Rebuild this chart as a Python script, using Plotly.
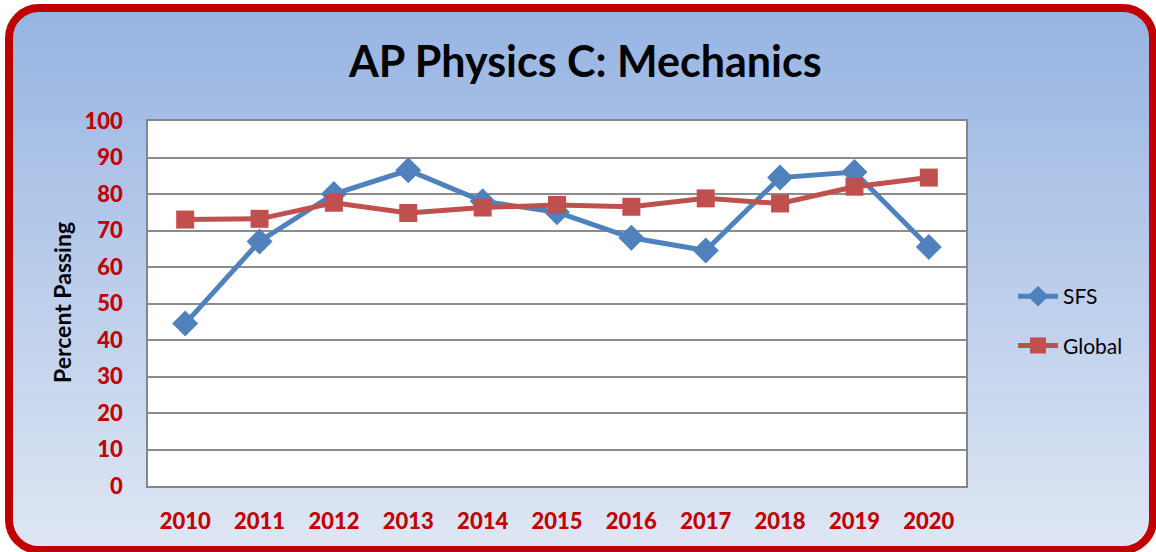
import plotly.graph_objects as go

years = ["2010", "2011", "2012", "2013", "2014", "2015", "2016", "2017", "2018", "2019", "2020"]
sfs = [44.5, 67, 80, 86.5, 78, 75, 68, 64.5, 84.5, 86, 65.5]
global_vals = [73, 73.2, 77.6, 74.8, 76.3, 77, 76.5, 78.8, 77.4, 82, 84.5]

W, H = 1156, 552
FONT = "Lato"
RED_TXT = "#c00000"


def px(x):
    return x / W


def py(y):
    return 1 - y / H


fig = go.Figure()
fig.add_trace(go.Scatter(
    x=years, y=sfs, name="SFS", mode="lines+markers",
    line=dict(color="#4f81bd", width=5),
    marker=dict(symbol="diamond", size=20, color="#4f81bd"),
    legendgroup="a",
))
fig.add_trace(go.Scatter(
    x=years, y=global_vals, name="Global", mode="lines+markers",
    line=dict(color="#c0504d", width=5),
    marker=dict(symbol="square", size=18, color="#c0504d"),
    legendgroup="b",
))

shapes = []
# gradient background bands
x0b, x1b, y0b, y1b = 9, 1153, 8, 550
top = (151, 180, 226)
bot = (222, 230, 243)
n = 70
for i in range(n):
    t = i / (n - 1)
    c = tuple(round(top[k] + (bot[k] - top[k]) * t) for k in range(3))
    ya = y0b + (y1b - y0b) * i / n
    yb = y0b + (y1b - y0b) * (i + 1) / n + 1
    shapes.append(dict(type="rect", xref="paper", yref="paper", layer="below",
                       x0=px(x0b), x1=px(x1b), y0=py(ya), y1=py(min(yb, y1b)),
                       line=dict(width=0), fillcolor="rgb(%d,%d,%d)" % c))

r = 30
k = 0.5523 * r


def P(x, y):
    return "%.5f,%.5f" % (px(x), py(y))


tl = "M %s L %s L %s C %s %s %s L %s Z" % (P(0, 0), P(x0b + r, 0), P(x0b + r, y0b),
                                          P(x0b + r - k, y0b), P(x0b, y0b + r - k), P(x0b, y0b + r), P(0, y0b + r))
tr = "M %s L %s L %s C %s %s %s L %s Z" % (P(W, 0), P(x1b - r, 0), P(x1b - r, y0b),
                                          P(x1b - r + k, y0b), P(x1b, y0b + r - k), P(x1b, y0b + r), P(W, y0b + r))
bl = "M %s L %s L %s C %s %s %s L %s Z" % (P(0, H), P(x0b + r, H), P(x0b + r, y1b),
                                          P(x0b + r - k, y1b), P(x0b, y1b - r + k), P(x0b, y1b - r), P(0, y1b - r))
br = "M %s L %s L %s C %s %s %s L %s Z" % (P(W, H), P(x1b - r, H), P(x1b - r, y1b),
                                          P(x1b - r + k, y1b), P(x1b, y1b - r + k), P(x1b, y1b - r), P(W, y1b - r))
for pth in (tl, tr, bl, br):
    shapes.append(dict(type="path", xref="paper", yref="paper", layer="below",
                       path=pth, fillcolor="white", line=dict(width=0)))

# red rounded border
border = ("M %s L %s C %s %s %s L %s C %s %s %s L %s C %s %s %s L %s C %s %s %s Z" % (
    P(x0b + r, y0b), P(x1b - r, y0b),
    P(x1b - r + k, y0b), P(x1b, y0b + r - k), P(x1b, y0b + r),
    P(x1b, y1b - r),
    P(x1b, y1b - r + k), P(x1b - r + k, y1b), P(x1b - r, y1b),
    P(x0b + r, y1b),
    P(x0b + r - k, y1b), P(x0b, y1b - r + k), P(x0b, y1b - r),
    P(x0b, y0b + r),
    P(x0b, y0b + r - k), P(x0b + r - k, y0b), P(x0b + r, y0b)))
shapes.append(dict(type="path", xref="paper", yref="paper", layer="below",
                   path=border, line=dict(color="#c00000", width=8)))

# white plot area
shapes.append(dict(type="rect", xref="x domain", yref="y domain", layer="below",
                   x0=0, x1=1, y0=0, y1=1, fillcolor="white", line=dict(width=0)))

fig.update_layout(
    width=W, height=H,
    margin=dict(l=0, r=0, t=0, b=0, pad=0, autoexpand=False),
    paper_bgcolor="white",
    plot_bgcolor="white",
    shapes=shapes,
    font=dict(family=FONT),
    showlegend=True,
    legend=dict(x=px(1013), y=py(276), xanchor="left", yanchor="top",
                bgcolor="rgba(0,0,0,0)", font=dict(size=21, color="black", family=FONT),
                tracegroupgap=19, itemwidth=40),
    xaxis=dict(domain=[px(148), px(966)], range=[-0.5, 10.5], type="category",
               automargin=False,
               showgrid=False, showline=True, linecolor="#868686", linewidth=1.5, mirror=True,
               tickfont=dict(size=22, color=RED_TXT, family=FONT + " Black"),
               ticks="", ticklabelstandoff=15, fixedrange=True),
    yaxis=dict(domain=[py(486), py(121)], range=[0, 100], dtick=10,
               automargin=False,
               showgrid=True, gridcolor="#8c8c8c", gridwidth=1.5,
               showline=True, linecolor="#868686", linewidth=1.5, mirror=True,
               zeroline=False,
               tickfont=dict(size=22, color=RED_TXT, family=FONT + " Black"),
               ticks="", ticklabelstandoff=19, fixedrange=True),
    annotations=[
        dict(text="<b>AP Physics C: Mechanics</b>", x=px(585), y=py(60), xref="paper", yref="paper",
             showarrow=False, font=dict(size=43, color="black", family=FONT), xanchor="center", yanchor="middle"),
        dict(text="<b>Percent Passing</b>", x=px(62), y=py(303), xref="paper", yref="paper",
             showarrow=False, textangle=-90, font=dict(size=23, color="black", family=FONT),
             xanchor="center", yanchor="middle"),
    ],
)

fig.write_html("out.html", post_script="document.body.style.margin='0';",
               config={"displayModeBar": False})
